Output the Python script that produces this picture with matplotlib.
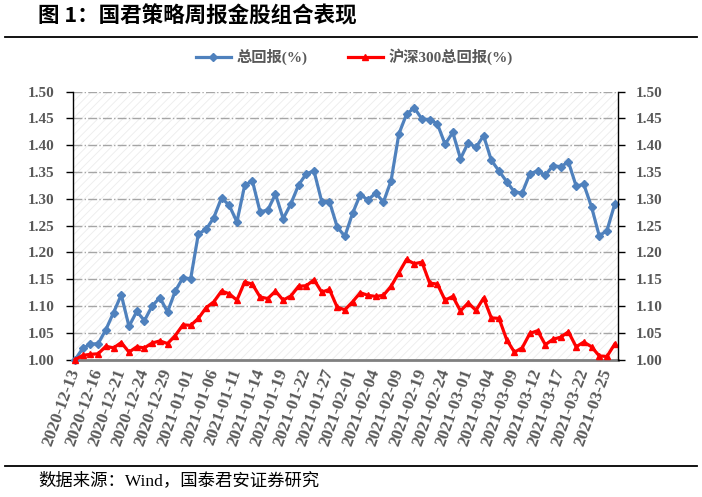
import matplotlib
matplotlib.use('Agg')
import matplotlib.pyplot as plt
from matplotlib.patches import Rectangle
from matplotlib.lines import Line2D

dates = ['2020-12-13', '2020-12-14', '2020-12-15', '2020-12-16', '2020-12-17', '2020-12-18',
         '2020-12-21', '2020-12-22', '2020-12-23', '2020-12-24', '2020-12-25', '2020-12-28',
         '2020-12-29', '2020-12-30', '2020-12-31', '2021-01-01', '2021-01-04', '2021-01-05',
         '2021-01-06', '2021-01-07', '2021-01-08', '2021-01-11', '2021-01-12', '2021-01-13',
         '2021-01-14', '2021-01-15', '2021-01-18', '2021-01-19', '2021-01-20', '2021-01-21',
         '2021-01-22', '2021-01-25', '2021-01-26', '2021-01-27', '2021-01-28', '2021-01-29',
         '2021-02-01', '2021-02-02', '2021-02-03', '2021-02-04', '2021-02-05', '2021-02-08',
         '2021-02-09', '2021-02-10', '2021-02-18', '2021-02-19', '2021-02-22', '2021-02-23',
         '2021-02-24', '2021-02-25', '2021-02-26', '2021-03-01', '2021-03-02', '2021-03-03',
         '2021-03-04', '2021-03-05', '2021-03-08', '2021-03-09', '2021-03-10', '2021-03-11',
         '2021-03-12', '2021-03-15', '2021-03-16', '2021-03-17', '2021-03-18', '2021-03-19',
         '2021-03-22', '2021-03-23', '2021-03-24', '2021-03-25', '2021-03-26']

total_return = [1.000, 1.021, 1.029, 1.030, 1.056, 1.088, 1.121, 1.062, 1.090, 1.073,
                1.100, 1.116, 1.089, 1.128, 1.153, 1.151, 1.235, 1.243, 1.265, 1.302,
                1.288, 1.257, 1.325, 1.334, 1.276, 1.279, 1.309, 1.263, 1.291, 1.326,
                1.347, 1.352, 1.295, 1.295, 1.248, 1.230, 1.273, 1.308, 1.298, 1.311,
                1.294, 1.334, 1.421, 1.458, 1.470, 1.449, 1.448, 1.440, 1.402, 1.424,
                1.375, 1.405, 1.396, 1.418, 1.372, 1.352, 1.332, 1.313, 1.311, 1.347,
                1.352, 1.344, 1.362, 1.360, 1.369, 1.324, 1.327, 1.285, 1.231, 1.241,
                1.290]

hs300_return = [1.000, 1.008, 1.010, 1.011, 1.025, 1.022, 1.032, 1.014, 1.024, 1.022,
                1.031, 1.035, 1.030, 1.045, 1.065, 1.064, 1.077, 1.097, 1.108, 1.128,
                1.123, 1.111, 1.145, 1.141, 1.117, 1.114, 1.128, 1.111, 1.119, 1.137,
                1.138, 1.149, 1.126, 1.131, 1.098, 1.093, 1.108, 1.125, 1.120, 1.118,
                1.120, 1.137, 1.162, 1.187, 1.179, 1.182, 1.143, 1.141, 1.111, 1.118,
                1.091, 1.106, 1.092, 1.115, 1.078, 1.077, 1.037, 1.014, 1.022, 1.049,
                1.054, 1.028, 1.038, 1.042, 1.052, 1.024, 1.033, 1.024, 1.007, 1.006,
                1.029]

y_ticks = [1.00, 1.05, 1.10, 1.15, 1.20, 1.25, 1.30, 1.35, 1.40, 1.45, 1.50]

serif_cjk = ['Liberation Serif', 'Noto Sans CJK SC']
gray_txt = '#595959'
blue = '#4F81BD'
red = '#FF0000'

plt.rcParams['hatch.linewidth'] = 0.6

fig = plt.figure(figsize=(7.02, 4.97), dpi=100)
ax = fig.add_axes([0.1036, 0.2763, 0.7764, 0.5392])

x = list(range(len(dates)))

# diagonal hatch background
ax.add_patch(Rectangle((0, 0), 1, 1, transform=ax.transAxes, facecolor='white',
                       edgecolor='#ececec', hatch='////', linewidth=0, zorder=0))

for v in y_ticks[1:]:
    ax.axhline(v, color='#a6a6a6', linestyle='-.', linewidth=1.0, zorder=1)

ax.plot(x, total_return, color=blue, linewidth=2.3, marker='D', markersize=3.8,
        zorder=3, clip_on=False)
ax.plot(x, hs300_return, color=red, linewidth=2.3, marker='^', markersize=5,
        zorder=4, clip_on=False)

ax.set_xlim(-0.3, 70.4)
ax.set_ylim(1.0, 1.5)
ax.set_yticks(y_ticks)
ax.set_yticklabels(['%.2f' % v for v in y_ticks], fontfamily='Liberation Serif',
                   fontweight='bold', fontsize=11, color=gray_txt)
ax.tick_params(axis='y', direction='out', length=5, width=1, color='black', pad=8)

ax.set_xticks(x[::3])
ax.set_xticklabels(dates[::3], rotation=70, ha='right', va='center',
                   rotation_mode='anchor', fontfamily='Liberation Serif',
                   fontweight='bold', fontsize=12.5, color=gray_txt)
ax.tick_params(axis='x', length=0, pad=7)

ax.spines['top'].set_visible(False)
ax.spines['right'].set_visible(False)
ax.spines['left'].set_color('black')
ax.spines['left'].set_linewidth(1.0)
ax.spines['bottom'].set_color('#808080')
ax.spines['bottom'].set_linewidth(2.0)
ax.spines['bottom'].set_zorder(2)

ax2 = ax.twinx()
ax2.set_ylim(1.0, 1.5)
ax2.set_yticks(y_ticks)
ax2.set_yticklabels(['%.2f' % v for v in y_ticks], fontfamily='Liberation Serif',
                    fontweight='bold', fontsize=11, color=gray_txt)
ax2.tick_params(axis='y', direction='out', length=5, width=1, color='black', pad=8)
for s in ['top', 'left', 'bottom']:
    ax2.spines[s].set_visible(False)
ax2.spines['right'].set_color('black')
ax2.spines['right'].set_linewidth(1.0)

handles = [Line2D([], [], color=blue, linewidth=2.3, marker='D', markersize=3.8),
           Line2D([], [], color=red, linewidth=2.3, marker='^', markersize=5)]
fig.legend(handles, ['总回报(%)', '沪深300总回报(%)'], loc='center',
           bbox_to_anchor=(0.505, 0.885), ncol=2, frameon=False, handlelength=2.3,
           columnspacing=2.6, handletextpad=0.4,
           prop={'family': serif_cjk, 'weight': 'bold', 'size': 11},
           labelcolor=gray_txt)

fig.text(0.054, 0.968, '图 1：国君策略周报金股组合表现', family=['Noto Sans CJK SC'],
         fontweight='bold', fontsize=15.5, va='center', ha='left')
fig.add_artist(Line2D([0.007, 0.993], [0.925, 0.925], color='black', linewidth=1.3))
fig.add_artist(Line2D([0.007, 0.993], [0.062, 0.062], color='black', linewidth=1.3))
fig.text(0.054, 0.032, '数据来源：Wind，国泰君安证券研究', family=serif_cjk,
         fontsize=12.5, va='center', ha='left')

fig.savefig('out.png', dpi=100)
